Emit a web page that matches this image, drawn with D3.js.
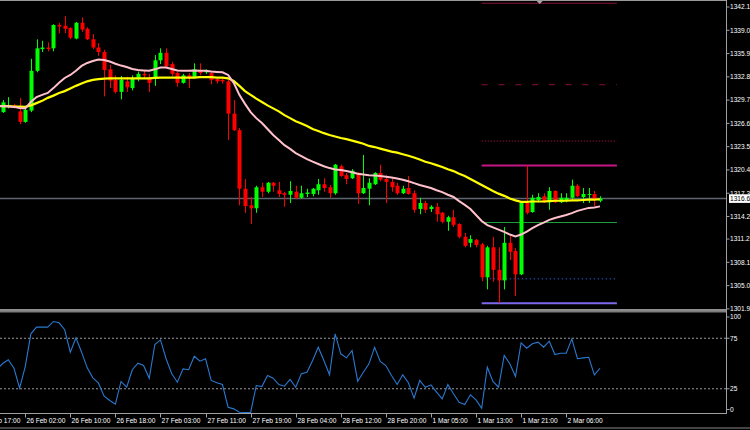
<!DOCTYPE html>
<html><head><meta charset="utf-8">
<script src="https://cdn.jsdelivr.net/npm/d3@7"></script>
<style>body{margin:0;background:#000;overflow:hidden}svg{display:block}</style>
</head><body><svg id="c" width="750" height="430"></svg>
<script>
// ---------- DATA ----------
const openP = [1328.1,1328.8,1329.0,1328.2,1326.8,1328.3,1333.6,1336.5,1336.7,1336.6,
 1339.7,1339.6,1339.3,1337.9,1340.0,1339.2,1337.8,1336.7,1336.1,1333.8,
 1332.4,1330.8,1332.2,1331.3,1332.5,1333.2,1332.7,1332.6,1335.0,1336.0,
 1334.5,1333.3,1332.0,1333.0,1332.7,1333.6,1333.4,1333.3,1332.5,1332.4,
 1332.2,1327.9,1325.7,1317.9,1315.7,1315.3,1318.1,1317.5,1318.7,1317.7,
 1317.3,1317.1,1317.5,1316.7,1317.2,1317.2,1317.7,1318.5,1318.1,1317.3,
 1320.9,1319.7,1319.3,1320.0,1317.3,1317.9,1318.5,1320.0,1319.2,1318.8,
 1318.3,1317.3,1318.0,1317.3,1315.2,1316.0,1315.2,1315.5,1314.7,1313.5,
 1314.1,1313.2,1311.5,1310.7,1311.1,1310.5,1306.1,1310.1,1307.1,1305.7,
 1310.7,1309.6,1306.5,1316.0,1314.8,1316.4,1316.9,1316.1,1317.6,1316.1,
 1316.3,1316.7,1318.3,1316.8,1317.1,1317.2,1316.3];
const highP = [1329.7,1330.1,1329.2,1330.0,1328.5,1335.2,1337.8,1337.6,1337.4,1339.8,
 1340.0,1340.9,1339.4,1340.1,1340.7,1339.4,1338.5,1337.3,1336.4,1334.4,
 1333.0,1332.9,1332.8,1333.0,1333.5,1333.6,1333.2,1335.7,1336.6,1336.6,
 1334.8,1333.5,1333.2,1333.3,1334.6,1334.6,1333.8,1333.5,1332.8,1332.6,
 1332.4,1329.7,1326.0,1319.2,1316.8,1318.3,1318.7,1318.8,1318.8,1318.8,
 1317.5,1318.9,1318.3,1318.3,1317.9,1318.0,1319.2,1319.3,1318.4,1321.2,
 1321.1,1320.0,1320.5,1320.1,1322.4,1319.3,1320.1,1321.1,1319.7,1319.3,
 1318.7,1318.3,1319.6,1317.7,1316.7,1316.3,1315.7,1316.0,1314.8,1314.3,
 1315.1,1313.3,1312.0,1311.7,1311.2,1310.7,1310.3,1311.5,1310.1,1312.8,
 1311.6,1310.0,1316.1,1321.0,1317.1,1317.3,1317.3,1318.1,1317.7,1317.3,
 1317.3,1319.1,1318.5,1318.0,1318.0,1317.6,1316.9];
const lowP = [1328.0,1328.6,1328.6,1326.5,1326.7,1328.1,1333.4,1336.1,1336.2,1336.2,
 1338.6,1338.6,1337.8,1337.8,1338.8,1337.7,1336.5,1335.6,1330.2,1331.3,
 1330.6,1329.8,1330.8,1331.0,1332.2,1332.5,1330.8,1331.6,1334.5,1334.1,
 1332.9,1331.5,1331.9,1331.3,1332.6,1333.0,1333.2,1331.8,1331.9,1331.9,
 1324.4,1325.6,1315.7,1314.7,1313.2,1314.7,1316.8,1317.3,1317.5,1316.8,
 1315.5,1316.0,1316.5,1316.6,1316.8,1316.9,1317.1,1317.5,1316.7,1317.1,
 1319.5,1318.5,1319.2,1315.9,1317.2,1315.7,1318.4,1318.9,1316.0,1317.5,
 1317.1,1317.2,1317.1,1314.7,1314.5,1314.7,1314.8,1313.5,1313.3,1312.3,
 1312.8,1311.3,1310.1,1310.1,1310.1,1305.6,1304.5,1305.5,1302.7,1304.5,
 1308.4,1303.6,1306.4,1314.5,1314.7,1316.1,1316.0,1315.1,1316.0,1316.0,
 1316.1,1316.5,1316.8,1316.0,1316.0,1315.6,1316.1];
const closeP = [1329.4,1329.0,1328.8,1326.8,1328.4,1333.6,1336.6,1336.7,1336.5,1339.7,
 1339.5,1339.2,1338.0,1340.0,1339.1,1337.8,1336.7,1336.1,1333.7,1332.3,
 1330.8,1332.4,1331.4,1332.5,1333.2,1333.0,1332.0,1335.0,1336.0,1334.2,
 1333.2,1332.0,1333.0,1332.6,1333.8,1333.3,1333.6,1332.4,1332.2,1332.2,
 1327.9,1325.7,1317.9,1315.6,1315.3,1318.1,1317.5,1318.7,1318.3,1317.2,
 1317.1,1317.6,1316.7,1317.3,1317.4,1317.9,1318.5,1318.0,1317.3,1321.1,
 1319.6,1319.2,1320.3,1317.3,1318.0,1318.7,1320.0,1319.1,1318.8,1318.1,
 1317.3,1317.9,1317.2,1315.1,1316.0,1315.1,1315.5,1314.5,1313.5,1314.1,
 1313.1,1311.5,1310.3,1311.2,1310.4,1306.1,1310.1,1307.1,1305.7,1310.7,
 1309.5,1306.5,1316.0,1314.7,1316.7,1316.8,1316.1,1317.6,1316.1,1316.7,
 1316.7,1318.3,1316.9,1317.2,1317.2,1316.4,1316.6];

// moving averages and RSI start one bar earlier (bar -1, partly off screen)
const lineStartBar = -1;
const maFast = [1328.95, 1328.9,1328.85,1328.8,1328.65,1328.6,1329.45,1330.1,1330.4,1330.65,1331.3,
 1332.0,1332.65,1333.05,1333.6,1334.25,1334.65,1334.9,1335.1,1335.05,1334.85,
 1334.55,1334.3,1334.1,1333.85,1333.7,1333.65,1333.6,1333.8,1334.05,1334.05,
 1333.85,1333.65,1333.6,1333.6,1333.65,1333.6,1333.6,1333.5,1333.45,1333.4,
 1333.05,1332.0,1330.4,1329.2,1328.1,1327.3,1326.65,1325.85,1325.05,1324.4,
 1323.7,1323.2,1322.65,1322.25,1321.85,1321.5,1321.2,1320.9,1320.65,1320.45,
 1320.4,1320.25,1320.1,1319.9,1319.8,1319.7,1319.65,1319.6,1319.5,1319.4,
 1319.25,1319.1,1318.9,1318.65,1318.4,1318.2,1318.0,1317.7,1317.45,1317.1,
 1316.8,1316.25,1315.75,1315.2,1314.4,1313.6,1313.05,1312.75,1312.45,1312.15,
 1311.8,1311.55,1311.8,1312.2,1312.65,1313.05,1313.4,1313.75,1314.0,1314.2,
 1314.4,1314.65,1314.95,1315.15,1315.35,1315.4,1315.55];
const maSlow = [1328.9, 1328.9,1328.9,1328.85,1328.85,1328.8,1329.0,1329.3,1329.6,1330.0,1330.3,
 1330.65,1330.9,1331.25,1331.6,1331.9,1332.2,1332.4,1332.5,1332.55,1332.6,
 1332.6,1332.6,1332.6,1332.6,1332.6,1332.6,1332.6,1332.65,1332.7,1332.7,
 1332.7,1332.7,1332.7,1332.7,1332.7,1332.75,1332.75,1332.75,1332.7,1332.7,
 1332.6,1332.25,1331.6,1330.9,1330.4,1329.9,1329.45,1329.0,1328.6,1328.2,
 1327.7,1327.3,1326.9,1326.6,1326.25,1325.85,1325.6,1325.3,1325.05,1324.85,
 1324.65,1324.5,1324.3,1324.1,1323.9,1323.6,1323.45,1323.25,1323.05,1322.85,
 1322.7,1322.5,1322.3,1322.05,1321.8,1321.5,1321.3,1321.05,1320.8,1320.5,
 1320.25,1319.9,1319.6,1319.2,1318.8,1318.4,1318.0,1317.6,1317.25,1316.95,
 1316.6,1316.35,1316.15,1316.15,1316.2,1316.2,1316.2,1316.25,1316.3,1316.3,
 1316.3,1316.35,1316.35,1316.4,1316.45,1316.45,1316.5];
const rsiVals = [44.5, 50,53.7,45.3,25.5,47,79.4,86,86,86,91.6,
 90.3,83.4,61.2,75.4,61.2,45.7,35.8,30.5,17.6,13.4,
 9.7,32.2,26.5,43.8,50.3,48,35.4,68.8,73.4,54.7,
 39.8,31.5,44.7,43.8,57.2,52.3,54.7,33.2,30.9,29.2,
 6.7,5.1,1.8,1.5,1.5,28.2,27.2,38.1,35.5,29.2,
 27.5,34.2,26.5,39.8,41.4,53,66.1,53,38.8,79.4,
 59.6,55.6,62.9,32.5,41.4,49.7,66.1,52,48,38.1,
 29.2,38.8,30.9,15.7,33.2,26.5,28.9,21.6,15,29.2,
 20,11.7,9.4,19,14,5.7,46.3,32.2,26.5,57.9,
 49.7,37.1,70.5,65.1,69.5,71.1,66.1,72.1,58.9,60.2,
 60.2,74.4,54.7,55.6,56.2,38.8,45.3];

const priceTicks = [1342.1,1339.0,1335.9,1332.8,1329.7,1326.6,1323.5,1320.4,1317.3,1314.2,1311.2,1308.1,1305.0,1301.9];
const rsiTicks = [100,75,25,0];
const rsiLevels = [75,25];
const timeTickBars = [-4,4,12,20,28,36,44,52,60,68,76,84,92,100];
const timeTickLabels = ["25 Feb 17:00","26 Feb 02:00","26 Feb 10:00","26 Feb 18:00","27 Feb 03:00","27 Feb 11:00","27 Feb 19:00","28 Feb 04:00","28 Feb 12:00","28 Feb 20:00","1 Mar 05:00","1 Mar 13:00","1 Mar 21:00","2 Mar 06:00"];
const levelPrices = [1342.6,1331.75,1324.25,1321.0,1313.4,1305.9,1302.65];
const levelColors = ["#86143c","#8a1030","#8a1030","#c71585","#22a040","#2a5bc0","#7b68ee"];
const levelDash = [null,"6,10.8","1.5,1.5",null,null,"1.5,2.5",null];
const levelWidth = [1,1,1,2,1,1,2];
const levelFromBar = 85, levelToBar = 109;
const markerBar = 95.3, markerPrice = 1342.9;
const currentPrice = 1316.6;

// ---------- SCALES ----------
const svg = d3.select("#c");
const W = 750, H = 430, axisX = 726.5;
const x = d3.scaleLinear().domain([0,106]).range([2.7,600]);
const y = d3.scaleLinear().domain([1301.9,1342.1]).range([308.9,7]);
const yR = d3.scaleLinear().domain([0,100]).range([414,313]);
const font = "'Liberation Sans', Arial, sans-serif";

svg.append("rect").attr("width",W).attr("height",H).attr("fill","#000");

const defs = svg.append("defs");
defs.append("clipPath").attr("id","cm").append("rect").attr("x",0).attr("y",1).attr("width",axisX).attr("height",308);
defs.append("clipPath").attr("id","ci").append("rect").attr("x",0).attr("y",313).attr("width",axisX).attr("height",101);

const main = svg.append("g").attr("clip-path","url(#cm)");

// current price line
main.append("line").attr("x1",0).attr("x2",axisX).attr("y1",y(currentPrice)).attr("y2",y(currentPrice))
  .attr("stroke","#5c6470").attr("stroke-width",1.3);

// levels
levelPrices.forEach((p,i)=>{
  main.append("line").attr("x1",x(levelFromBar)).attr("x2",x(levelToBar))
    .attr("y1",y(p)).attr("y2",y(p)).attr("stroke",levelColors[i])
    .attr("stroke-width",levelWidth[i]).attr("stroke-dasharray",levelDash[i]);
});
// small marker on top level
{
  const mx = x(markerBar), my = y(markerPrice);
  main.append("path").attr("d",`M${mx-3},${my} L${mx},${my-3} L${mx+3},${my} L${mx},${my+3}Z`).attr("fill","#a8a8a8");
}

// candles
const bars = d3.range(openP.length).map(i=>({i,o:openP[i],h:highP[i],l:lowP[i],c:closeP[i]}));
const up = "#00ff00", dn = "#ff0000";
const cg = main.append("g");
cg.selectAll("line.w").data(bars).join("line").attr("class","w")
  .attr("x1",d=>Math.round(x(d.i))+0.5).attr("x2",d=>Math.round(x(d.i))+0.5)
  .attr("y1",d=>y(d.h)).attr("y2",d=>y(d.l))
  .attr("stroke",d=>d.c>=d.o?up:dn).attr("stroke-width",1);
cg.selectAll("rect.b").data(bars).join("rect").attr("class","b")
  .attr("x",d=>Math.round(x(d.i))-1.5).attr("width",4)
  .attr("y",d=>y(Math.max(d.o,d.c)))
  .attr("height",d=>Math.max(1,y(Math.min(d.o,d.c))-y(Math.max(d.o,d.c))))
  .attr("fill",d=>d.c>=d.o?up:dn);

// moving averages
const maLine = d3.line().x((d,k)=>x(k+lineStartBar)).y(d=>y(d));
main.append("path").attr("d",maLine(maSlow)).attr("fill","none").attr("stroke","#ffff00").attr("stroke-width",2.2);
main.append("path").attr("d",maLine(maFast)).attr("fill","none").attr("stroke","#ffc0cb").attr("stroke-width",2);

// frame lines
svg.append("line").attr("x1",0).attr("x2",axisX).attr("y1",0.5).attr("y2",0.5).attr("stroke","#9a9a9a");
svg.append("rect").attr("x",0).attr("y",309.3).attr("width",axisX).attr("height",3.2).attr("fill","#7c7c7c");
svg.append("line").attr("x1",0).attr("x2",axisX).attr("y1",309.8).attr("y2",309.8).attr("stroke","#a8a8a8");
svg.append("line").attr("x1",axisX).attr("x2",axisX).attr("y1",0).attr("y2",414).attr("stroke","#a0a0a0");
svg.append("line").attr("x1",0).attr("x2",axisX).attr("y1",413.5).attr("y2",413.5).attr("stroke","#a0a0a0");
svg.append("line").attr("x1",0).attr("x2",W).attr("y1",428).attr("y2",428).attr("stroke","#8a8a8a");

// indicator panel
const ind = svg.append("g").attr("clip-path","url(#ci)");
rsiLevels.forEach(v=>{
  ind.append("line").attr("x1",0).attr("x2",axisX).attr("y1",yR(v)).attr("y2",yR(v))
    .attr("stroke","#9a9a9a").attr("stroke-dasharray","2,2");
});
const rLine = d3.line().x((d,k)=>x(k+lineStartBar)).y(d=>yR(d));
ind.append("path").attr("d",rLine(rsiVals)).attr("fill","none").attr("stroke","#2a78d0").attr("stroke-width",1.1);

// price axis
const pa = svg.append("g");
priceTicks.forEach(p=>{
  pa.append("line").attr("x1",axisX).attr("x2",axisX+3).attr("y1",y(p)).attr("y2",y(p)).attr("stroke","#a0a0a0");
  pa.append("text").attr("x",730).attr("y",y(p)).attr("dy","0.35em").text(p.toFixed(1))
    .attr("fill","#fff").attr("font-family",font).attr("font-size",6.6);
});
// current price box
pa.append("rect").attr("x",729).attr("y",y(currentPrice)-4.2).attr("width",22).attr("height",8.6).attr("fill","#fff");
pa.append("text").attr("x",730).attr("y",y(currentPrice)).attr("dy","0.35em").text(currentPrice.toFixed(1))
  .attr("fill","#000").attr("font-family",font).attr("font-size",6.6);

// indicator axis
rsiTicks.forEach(v=>{
  const yy = v===100 ? yR(v)+4 : v===0 ? yR(v)-4.5 : yR(v);
  pa.append("line").attr("x1",axisX).attr("x2",axisX+3).attr("y1",yy).attr("y2",yy).attr("stroke","#a0a0a0");
  pa.append("text").attr("x",730).attr("y",yy).attr("dy","0.35em").text(v)
    .attr("fill","#fff").attr("font-family",font).attr("font-size",6.6);
});

// time axis
timeTickBars.forEach((b,i)=>{
  const tx = Math.round(x(b))+0.5;
  svg.append("line").attr("x1",tx).attr("x2",tx).attr("y1",413.5).attr("y2",417.5).attr("stroke","#a0a0a0");
  svg.append("text").attr("x",tx+1).attr("y",423).text(timeTickLabels[i])
    .attr("fill","#fff").attr("font-family",font).attr("font-size",6.6);
});
</script></body></html>
